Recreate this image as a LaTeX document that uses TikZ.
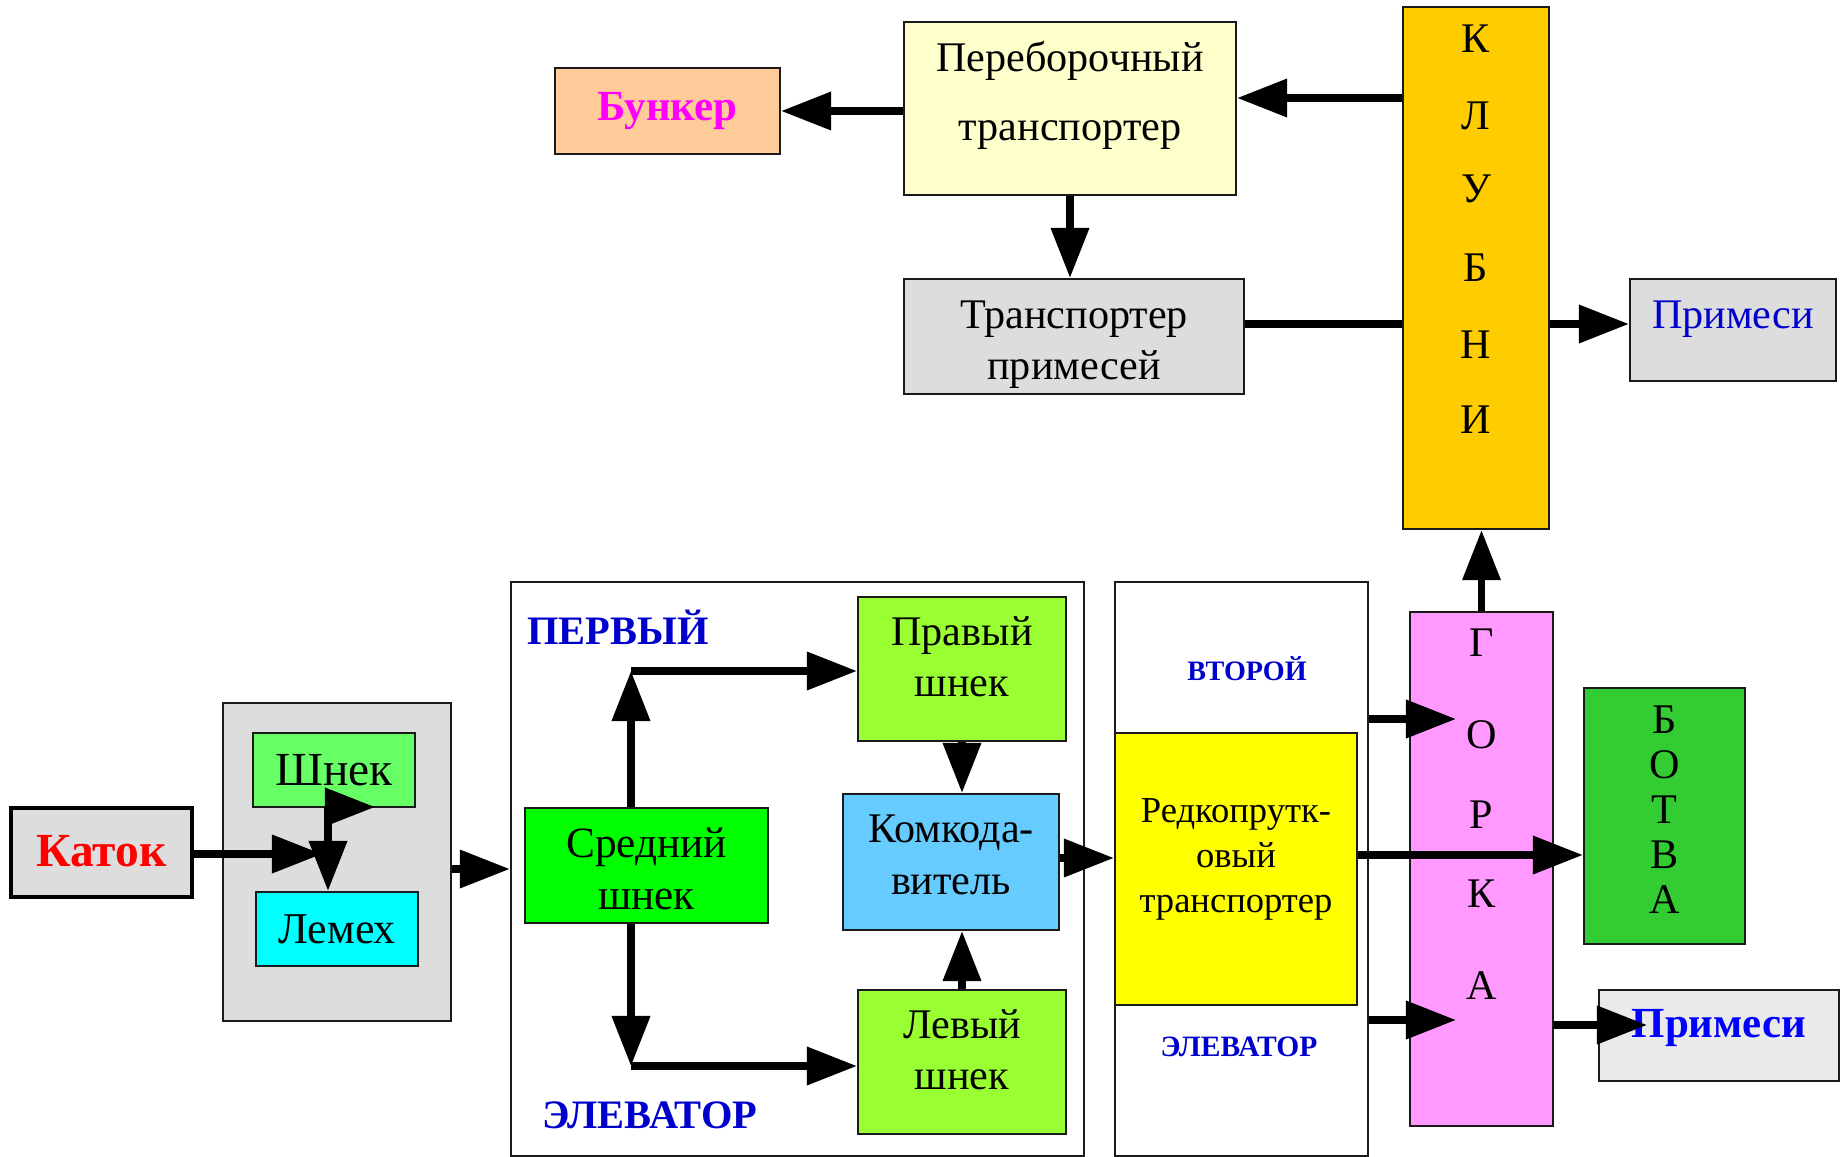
\documentclass[tikz,border=0pt]{standalone}
\usepackage{fontspec}
\setmainfont{Liberation Serif}
\usetikzlibrary{arrows.meta,calc}
\definecolor{peach}{HTML}{FFCC99}
\definecolor{cream}{HTML}{FFFFCC}
\definecolor{panel}{HTML}{DDDDDD}
\definecolor{pale}{HTML}{EAEAEA}
\definecolor{amber}{HTML}{FFCC00}
\definecolor{lime}{HTML}{66FF66}
\definecolor{aqua}{HTML}{00FFFF}
\definecolor{brightgreen}{HTML}{00FF00}
\definecolor{yellowgreen}{HTML}{99FF33}
\definecolor{skyblue}{HTML}{66CCFF}
\definecolor{lemon}{HTML}{FFFF00}
\definecolor{rose}{HTML}{FF99FF}
\definecolor{leaf}{HTML}{33CC33}
\definecolor{inkblue}{HTML}{0000CC}
\definecolor{fuchsia}{HTML}{FF00FF}
\definecolor{brightblue}{HTML}{0000FF}
\definecolor{signal}{HTML}{FF0000}
\definecolor{edge}{HTML}{1A1A1A}

\begin{document}
\begin{tikzpicture}[x=0.01cm,y=-0.01cm,
  lbl/.style={font=\fontsize{12}{14.6}\selectfont,align=center},
  bold/.style={font=\fontsize{12.2}{14.6}\selectfont\bfseries},
  tiny/.style={font=\fontsize{8.2}{10}\selectfont\bfseries,text=inkblue},
  blk/.style={draw=edge,line width=0.6pt,inner sep=0pt,lbl},
  arr/.style={-{Triangle[length=5mm,width=3.7mm]},line width=2pt}]
  \useasboundingbox (0,0) rectangle (1841,1157);

  % upper part
  \node[blk,fill=peach,minimum width=2.25cm,minimum height=0.86cm,bold,text=fuchsia] (bunker) at (667.5,111) {Бункер};
  \node[blk,fill=cream,minimum width=3.32cm,minimum height=1.73cm,
        label={[lbl,yshift=0.13cm,font=\fontsize{12}{19.4}\selectfont]center:Переборочный\\транспортер}] (perebor) at (1070,108.5) {};
  \node[blk,fill=panel,minimum width=3.40cm,minimum height=1.15cm,
        label={[lbl,yshift=-0.08cm]center:Транспортер\\примесей}] (trprim) at (1074,336.5) {};
  \node[blk,fill=amber,minimum width=1.46cm,minimum height=5.22cm] (klubni) at (1476,268) {};
  \foreach \c/\y in {К/39,Л/116,У/189,Б/268,Н/345,И/420}
    \node[lbl] (kl\y) at (1476,\y) {\c};
  \node[blk,fill=panel,minimum width=2.06cm,minimum height=1.02cm,
        label={[lbl,text=inkblue,yshift=0.11cm]center:Примеси}] (prim1) at (1733,330) {};

  % lower part
  \node[blk,fill=panel,draw=black,line width=1.1pt,minimum width=1.81cm,minimum height=0.89cm,
        text=signal,font=\fontsize{13.5}{15}\selectfont\bfseries] (katok) at (101.5,852.5) {\raisebox{0.03cm}{Каток}};
  \node[blk,fill=panel,minimum width=2.28cm,minimum height=3.18cm] (plow) at (337,862) {};
  \node[blk,fill=lime,minimum width=1.62cm,minimum height=0.74cm,font=\fontsize{13.5}{15}\selectfont] (shnek) at (334,770) {Шнек};
  \node[blk,fill=aqua,minimum width=1.62cm,minimum height=0.74cm,font=\fontsize{12.5}{15}\selectfont] (lemeh) at (337,929) {Лемех};

  \node[blk,fill=white,minimum width=5.73cm,minimum height=5.74cm] (elev1) at (797.5,869) {};
  \node[bold,text=inkblue,font=\fontsize{11.5}{14}\selectfont\bfseries] (first) at (618,627) {ПЕРВЫЙ};
  \node[bold,text=inkblue,font=\fontsize{11.5}{14}\selectfont\bfseries] (elevA) at (650,1115) {ЭЛЕВАТОР};
  \node[blk,fill=brightgreen,minimum width=2.43cm,minimum height=1.15cm,
        label={[lbl,yshift=-0.03cm,font=\fontsize{12.3}{14.8}\selectfont]center:Средний\\шнек}] (sred) at (646.5,865.5) {};
  \node[blk,fill=yellowgreen,minimum width=2.08cm,minimum height=1.44cm,
        label={[lbl,yshift=0.12cm]center:Правый\\шнек}] (prav) at (962,669) {};
  \node[blk,fill=skyblue,minimum width=2.16cm,minimum height=1.36cm,
        label={[lbl,yshift=0.07cm]center:Комкода-\\витель}] (komk) at (951,862) {};
  \node[blk,fill=yellowgreen,minimum width=2.08cm,minimum height=1.44cm,
        label={[lbl,yshift=0.12cm]center:Левый\\шнек}] (lev) at (962,1062) {};

  \node[blk,fill=white,minimum width=2.53cm,minimum height=5.74cm] (elev2) at (1241.5,869) {};
  \node[tiny,font=\fontsize{8}{10}\selectfont\bfseries] (second) at (1247,669) {ВТОРОЙ};
  \node[tiny,font=\fontsize{8.4}{10}\selectfont\bfseries] (elevB) at (1239,1047) {ЭЛЕВАТОР};
  \node[blk,fill=lemon,minimum width=2.42cm,minimum height=2.72cm,
        label={[lbl,yshift=0.10cm,font=\fontsize{10.4}{12.8}\selectfont]center:Редкопрутк-\\овый\\транспортер}] (redk) at (1236,869) {};

  \node[blk,fill=rose,minimum width=1.43cm,minimum height=5.14cm] (gorka) at (1481.5,869) {};
  \foreach \c/\y in {Г/643,О/735,Р/815,К/894,А/986}
    \node[lbl] (go\y) at (1481.5,\y) {\c};
  \node[blk,fill=leaf,minimum width=1.61cm,minimum height=2.56cm] (botva) at (1664.5,816) {};
  \foreach \c/\y in {Б/720,О/765,Т/810,В/855,А/900}
    \node[lbl] (bo\y) at (1664.5,\y) {\c};
  \node[blk,fill=pale,minimum width=2.40cm,minimum height=0.91cm,
        label={[bold,text=brightblue,yshift=0.07cm]center:Примеси}] (prim2) at (1719,1035.5) {};

  % connectors, upper part
  \draw[arr] (perebor.west |- bunker.east) -- (bunker.east);
  \draw[arr] (klubni.west |- 0,98) -- (perebor.east |- 0,98);
  \draw[arr] (perebor.south) -- (perebor.south |- trprim.north);
  \draw[line width=2pt] (trprim.east |- 0,324) -- (klubni.west |- 0,324);
  \draw[arr] (klubni.east |- 0,324) -- (prim1.west |- 0,324);
  \draw[arr] (gorka.north) -- (gorka.north |- klubni.south);

  % connectors, lower part
  \coordinate (jn) at (322,854);
  \coordinate (sj) at (328,822);
  \coordinate (st) at (375,807);
  \draw[arr] (katok.east |- jn) -- (jn);
  \draw[arr] (sj) -- (sj |- lemeh.north);
  \draw[arr] (sj) |- (st);
  \draw[arr] (plow.east |- 0,869) -- (elev1.west |- 0,869);

  \coordinate (cu) at (631,671);
  \coordinate (cd) at (631,1066);
  \draw[arr] (sred.north -| cu) -- (cu);
  \draw[arr] (cu) -- (cu -| prav.west);
  \draw[arr] (sred.south -| cd) -- (cd);
  \draw[arr] (cd) -- (cd -| lev.west);
  \draw[arr] (prav.south) -- (prav.south |- komk.north);
  \draw[arr] (lev.north) -- (lev.north |- komk.south);
  \draw[arr] (komk.east |- 0,858) -- (elev2.west |- 0,858);

  \coordinate (gu) at (1456,719);
  \coordinate (gd) at (1456,1020);
  \coordinate (pt) at (1647,1025);
  \draw[arr] (elev2.east |- gu) -- (gu);
  \draw[arr] (elev2.east |- gd) -- (gd);
  \draw[arr] (redk.east |- 0,855) -- (botva.west |- 0,855);
  \draw[arr] (gorka.east |- pt) -- (pt);
\end{tikzpicture}
\end{document}
